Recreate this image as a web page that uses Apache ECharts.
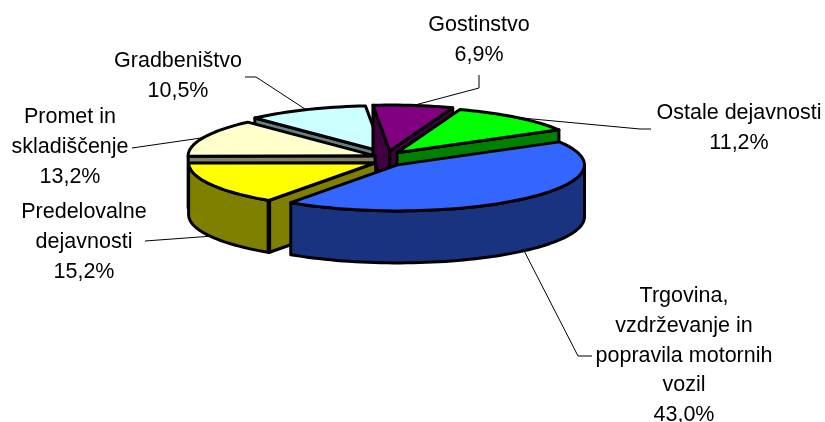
<!DOCTYPE html>
<html>
<head>
<meta charset="utf-8">
<style>html,body{margin:0;padding:0;background:#fff}#c{width:825px;height:422px}</style>
<script src="https://cdn.jsdelivr.net/npm/echarts@6/dist/echarts.min.js"></script>
</head>
<body>
<div id="c"></div>
<script>
// ---- data ----
const categories = ['Trgovina, vzdrževanje in popravila motornih vozil','Predelovalne dejavnosti','Promet in skladiščenje','Gradbeništvo','Gostinstvo','Ostale dejavnosti'];
const values = [43.0, 15.2, 13.2, 10.5, 6.9, 11.2];
const valueLabels = ['43,0%','15,2%','13,2%','10,5%','6,9%','11,2%'];
const labelLines = [
  ['Trgovina,','vzdrževanje in','popravila motornih','vozil'],
  ['Predelovalne','dejavnosti'],
  ['Promet in','skladiščenje'],
  ['Gradbeništvo'],
  ['Gostinstvo'],
  ['Ostale dejavnosti']
];
const topColors  = ['#3366FF','#FFFF00','#FFFFCC','#CCFFFF','#800080','#00FF00'];
const sideColors = ['#1A3380','#808000','#808066','#668080','#400040','#008000'];

// ---- 3D projection settings ----
const firstAngle = 60, CX = 388, CY = 159, RX = 187, RY = 46, DEPTH = 52, EX = 14, EY = 8;
const labelPos = [[684,296],[84,212],[70,117],[178,61],[479,25],[739,113]];
const leaderEnds = [[[578,356],[592,356]],[[145,241]],[[132,148]],[[256,77],[245,77]],[[479,88],[479,75]],[[640,129],[651,129]]];
const lineStep = 29.8;
const paintOrder = [3,4,5,2,1,0];

const rad = d => d*Math.PI/180;
const total = values.reduce((a,b)=>a+b,0);
const slices = []; let acc = firstAngle;
values.forEach((v,i)=>{ const a0=acc, a1=acc+v/total*360; acc=a1;
  const m=(a0+a1)/2;
  slices.push({a0,a1,m,cx:CX+EX*Math.sin(rad(m)),cy:CY-EY*Math.cos(rad(m))}); });
const rim = (s,a,d=0)=>[s.cx+RX*Math.sin(rad(a)), s.cy-RY*Math.cos(rad(a))+d];
function arc(s,a0,a1,d=0){const n=Math.max(2,Math.ceil((a1-a0)/2)),p=[];for(let k=0;k<=n;k++)p.push(rim(s,a0+(a1-a0)*k/n,d));return p;}
const edgeStyle = (fill,lw=3)=>({fill,stroke:'#000',lineWidth:lw,lineJoin:'round'});
const poly = (points,fill,lw)=>({type:'polygon',shape:{points},style:edgeStyle(fill,lw)});

function renderSlice(params,api){
  const i=api.value(0), s=slices[i], side=sideColors[i], children=[];
  const apexBottom=[s.cx,s.cy+DEPTH], apexTop=[s.cx,s.cy];
  const startVisible=Math.sin(rad(s.a0))<0;
  if(startVisible) children.push(poly([apexTop,rim(s,s.a0),rim(s,s.a0,DEPTH),apexBottom],side));
  if(Math.sin(rad(s.a1))>0) children.push(poly([apexTop,rim(s,s.a1),rim(s,s.a1,DEPTH),apexBottom],side));
  // outer wall: the part of the rim facing the viewer (90..270)
  const lo=Math.max(s.a0,90), hi=Math.min(s.a1,270);
  if(hi-lo>1) children.push(poly(arc(s,lo,hi).concat(arc(s,lo,hi,DEPTH).reverse()),side));
  // heavy ridge where a visible cut face meets the outer wall
  if(startVisible && hi-lo>1){
    const a=rim(s,s.a0), b=rim(s,s.a0,DEPTH);
    children.push({type:'line',shape:{x1:a[0],y1:a[1],x2:b[0],y2:b[1]},style:{stroke:'#000',lineWidth:4.5}});
  }
  children.push(poly([apexTop].concat(arc(s,s.a0,s.a1)),topColors[i]));
  return {type:'group',children};
}
function renderLeader(params,api){
  const i=api.value(0), s=slices[i];
  const front=Math.cos(rad(s.m))<0;
  const start=rim(s,s.m,(front?DEPTH:0));
  return {type:'polyline',shape:{points:[start].concat(leaderEnds[i])},style:{fill:null,stroke:'#000',lineWidth:1}};
}
function renderLabel(params,api){
  const i=api.value(0), lines=labelLines[i].concat(valueLabels[i]);
  return {type:'group',children:lines.map((t,k)=>({type:'text',style:{
    text:t,x:labelPos[i][0],y:labelPos[i][1]+k*lineStep,align:'center',verticalAlign:'middle',
    font:'21.5px "Liberation Sans", Arial, sans-serif',fill:'#000'}}))};
}
const idx = values.map((_,i)=>[i]);
const chart = echarts.init(document.getElementById('c'),null,{renderer:'canvas'});
chart.setOption({
  animation:false,
  backgroundColor:'#fff',
  series:[
    {type:'custom',coordinateSystem:'none',z:1,silent:true,renderItem:renderLeader,data:idx},
    {type:'custom',coordinateSystem:'none',z:2,silent:true,renderItem:renderSlice,data:paintOrder.map(i=>[i])},
    {type:'custom',coordinateSystem:'none',z:3,silent:true,renderItem:renderLabel,data:idx}
  ]
});
</script>
</body>
</html>
